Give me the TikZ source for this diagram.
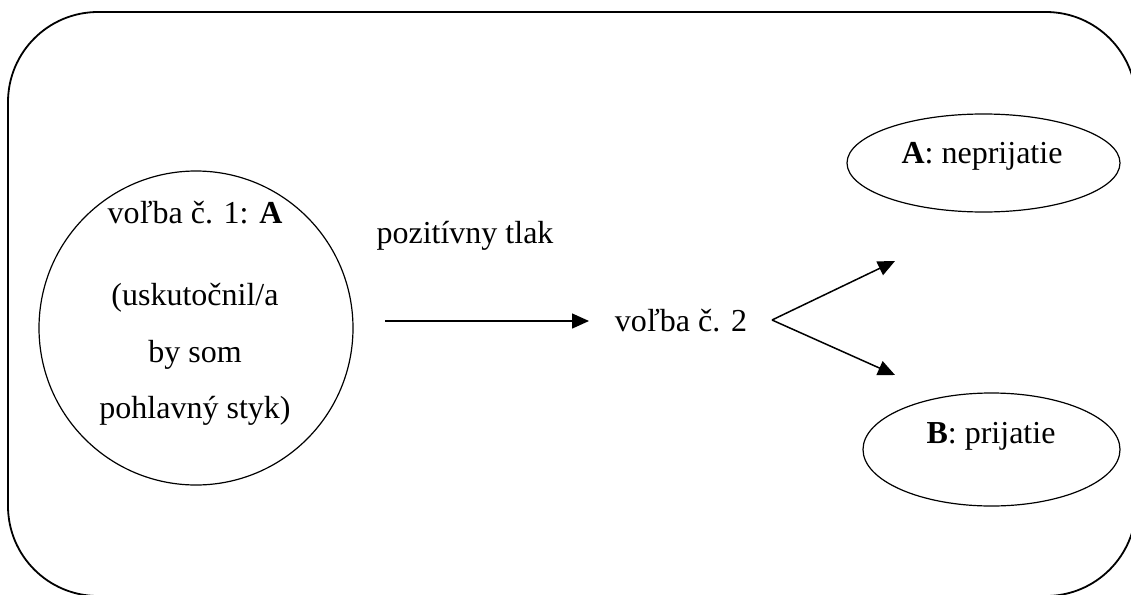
\documentclass[tikz,border=0pt]{standalone}
\usepackage{fontspec}
\setmainfont{Liberation Serif}
\usetikzlibrary{shapes.geometric,arrows.meta}
\begin{document}
\begin{tikzpicture}[x=1pt,y=-1pt,
  txt/.style={anchor=base,inner sep=0pt,font=\fontsize{32}{38}\selectfont},
  oval/.style={draw,ellipse,line width=1.2pt,inner sep=0pt},
  conn/.style={line width=1.5pt,-{Triangle[length=17pt,width=15pt]}}]
\useasboundingbox (0,0) rectangle (1131,594);
\clip (0,0) rectangle (1131,594);
\draw[line width=1.8pt,rounded corners=90pt] (8,12) rectangle (1136,596);
% left ellipse
\node[oval,minimum width=314pt,minimum height=314pt] (e1) at (196,328) {};
\node[txt] (t1) at (195,223) {voľba č. 1: \textbf{A}};
\node[txt] (t2) at (195,305) {(uskutočnil/a};
\node[txt] (t3) at (195,362) {by som};
\node[txt] (t4) at (195,418) {pohlavný styk)};
% middle
\node[txt] (p) at (465,243) {pozitívny tlak};
\node[txt] (v2) at (681,331) {voľba č. 2};
\coordinate (a0) at (385,321);
\coordinate (a1) at (589,321);
\draw[conn] (a0) -- (a1);
\coordinate (apex) at (772,320);
\coordinate (up) at (895,261);
\coordinate (dn) at (895,375);
\draw[conn] (apex) -- (up);
\draw[conn] (apex) -- (dn);
% right ellipses
\node[oval,minimum width=273pt,minimum height=98pt] (eA) at (983.5,163) {};
\node[txt] (tA) at (982,163) {\textbf{A}: neprijatie};
\node[oval,minimum width=257pt,minimum height=113pt] (eB) at (991.5,449.5) {};
\node[txt] (tB) at (991,443) {\textbf{B}: prijatie};
\end{tikzpicture}
\end{document}
